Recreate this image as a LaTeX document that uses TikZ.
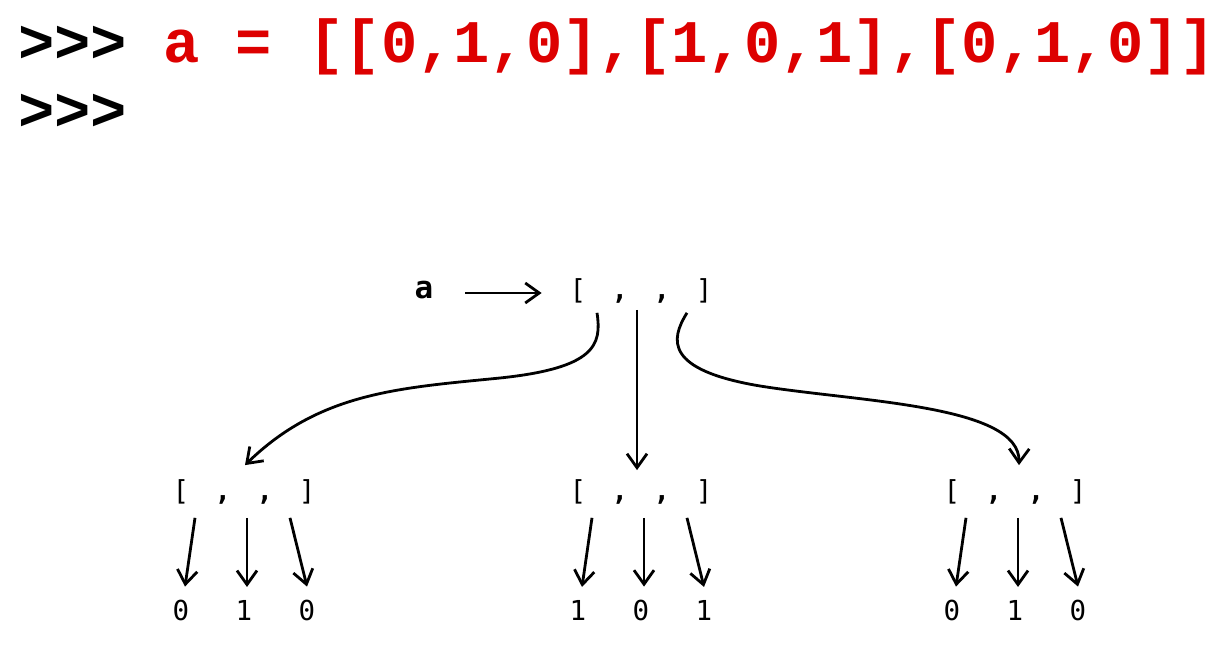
\documentclass[tikz,border=0pt]{standalone}
\usepackage{fontspec}
\setmonofont{Liberation Mono}
\newfontfamily\dvmono{DejaVu Sans Mono}
\usetikzlibrary{arrows.meta}
\definecolor{pyred}{RGB}{221,0,0}
\newcommand{\lstx}{[\hspace{25.5pt}{\bfseries,}\hspace{25.5pt}{\bfseries,}\hspace{25.5pt}]}
\begin{document}
\begin{tikzpicture}[x=1pt,y=-1pt,
  every node/.style={inner sep=0pt, outer sep=0pt},
  prompt/.style={anchor=base west, font=\fontsize{60.5}{60.5}\selectfont\ttfamily\bfseries},
  lst/.style={anchor=base, font=\fontsize{27.5}{27.5}\selectfont\dvmono},
  val/.style={anchor=base, font=\fontsize{27.5}{27.5}\selectfont\dvmono},
  conn/.style={line width=2.8pt, -{Straight Barb[length=14pt,width=20pt]}},
]
\useasboundingbox (0,0) rectangle (1232,652);
\node[prompt] (p1) at (18,63) {>>> \textcolor{pyred}{a = [[0,1,0],[1,0,1],[0,1,0]]}};
\node[prompt] (p2) at (18,131) {>>>};

\node[anchor=base, font=\fontsize{31}{31}\selectfont\dvmono\bfseries] (alabel) at (424,299) {a};
\node[lst] (l0) at (641,300) {\lstx};
\draw[conn] ([xshift=32pt,yshift=6pt]alabel.base east) -- ([xshift=-28pt,yshift=7pt]l0.base west);

\foreach \L/\cx/\a/\b/\c in {l1/244/0/1/0, l2/641/1/0/1, l3/1015/0/1/0} {
  \node[lst] (\L) at (\cx,500) {\lstx};
  \node[val] (\L a) at (\cx-63,620) {\a};
  \node[val] (\L b) at (\cx,620) {\b};
  \node[val] (\L c) at (\cx+63,620) {\c};
  \draw[conn] ([xshift=-49pt,yshift=-14pt]\L.south) -- ([xshift=4pt,yshift=13pt]\L a.north);
  \draw[conn] ([xshift=3pt,yshift=-14pt]\L.south) -- ([xshift=3pt,yshift=13pt]\L b.north);
  \draw[conn] ([xshift=46pt,yshift=-14pt]\L.south) -- ([xshift=0pt,yshift=13pt]\L c.north);
}

\draw[conn] ([xshift=-44pt,yshift=-9pt]l0.south) .. controls (602,345) and (595,368) .. (500,378)
  .. controls (400,388) and (320,392) .. ([xshift=1pt,yshift=14pt]l1.north);
\draw[conn] ([xshift=-4pt,yshift=-6pt]l0.south) -- ([xshift=-4pt,yshift=9pt]l2.north);
\draw[conn] ([xshift=46pt,yshift=-9pt]l0.south) .. controls (670,340) and (665,370) .. (760,386)
  .. controls (860,402) and (1020,405) .. ([xshift=4pt,yshift=14pt]l3.north);
\end{tikzpicture}
\end{document}
